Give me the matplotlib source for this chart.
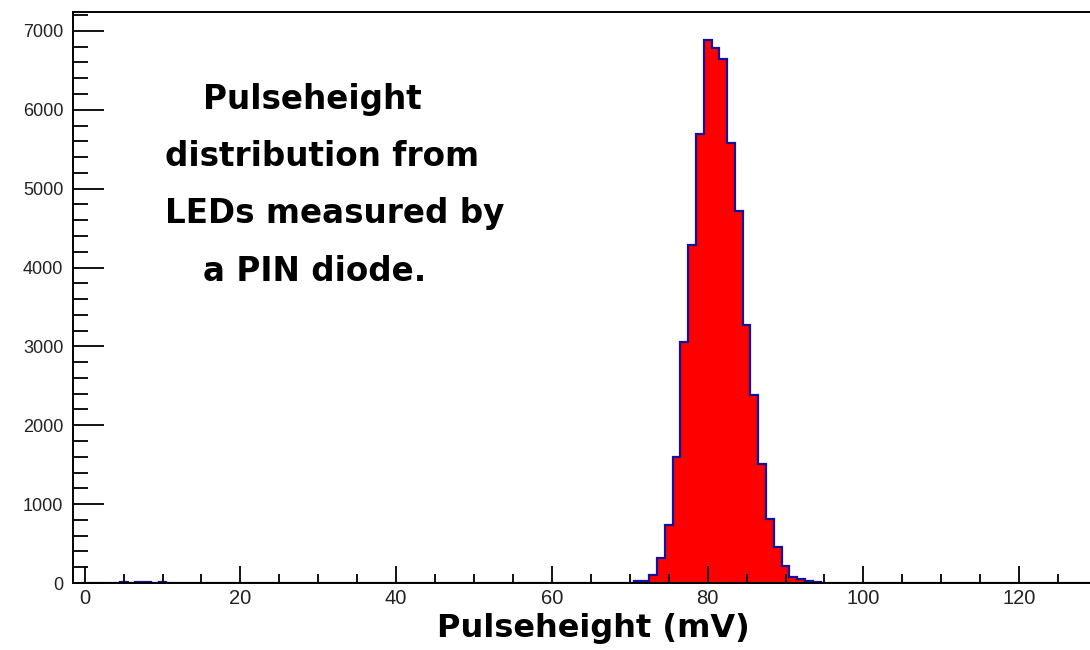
import numpy as np
import matplotlib.pyplot as plt
from matplotlib.ticker import MultipleLocator

# bin centres (mV) with non-zero counts, 1 mV bins
pulse_mv = [5, 7, 8, 10,
            71, 72, 73, 74, 75, 76, 77, 78, 79, 80, 81, 82, 83, 84,
            85, 86, 87, 88, 89, 90, 91, 92, 93, 94]
counts = [10, 12, 10, 8,
          25, 30, 100, 320, 735, 1600, 3050, 4285, 5690, 6880, 6780, 6645, 5575, 4715,
          3270, 2385, 1505, 810, 460, 220, 80, 50, 20, 15]

x_ticks = [0, 20, 40, 60, 80, 100, 120]
y_ticks = [0, 1000, 2000, 3000, 4000, 5000, 6000, 7000]
note_lines = ["Pulseheight", "distribution from", "LEDs measured by", "a PIN diode."]
x_title = "Pulseheight (mV)"

W, H = 1090, 650
fig = plt.figure(figsize=(W / 100, H / 100), dpi=100)
ax = fig.add_axes([73 / W, 67 / H, (W - 73) / W, 571 / H])

edges = np.arange(-0.5, 130.5, 1.0)
hist = np.zeros(len(edges) - 1)
hist[np.searchsorted(edges, pulse_mv) - 1] = counts

ax.stairs(hist, edges, fill=True, color="#ff0000", zorder=1)
ax.stairs(hist, edges, color="#12129a", lw=1.6, zorder=1.5)

ax.set_xlim(-1.5, 129.1)
ax.set_ylim(0, 7240)
ax.spines["right"].set_visible(False)
for s in ["left", "bottom", "top"]:
    ax.spines[s].set_linewidth(1.4)
    ax.spines[s].set_zorder(3)

ax.set_xticks(x_ticks)
ax.set_yticks(y_ticks)
ax.xaxis.set_minor_locator(MultipleLocator(5))
ax.yaxis.set_minor_locator(MultipleLocator(200))
ax.tick_params(axis="x", which="major", direction="in", length=12, width=1.3, pad=4,
               labelsize=14.5, labelcolor="#222222")
ax.tick_params(axis="x", which="minor", direction="in", length=6.5, width=1.3)
ax.tick_params(axis="y", which="major", direction="in", length=22, width=1.3, pad=7,
               labelsize=13, labelcolor="#222222")
ax.tick_params(axis="y", which="minor", direction="in", length=11, width=1.3)
for lab in ax.get_xticklabels() + ax.get_yticklabels():
    lab.set_family("Liberation Sans")

# annotation block and axis title
starts = [203, 165, 165, 203]
baselines = [109, 166, 223, 281]
for txt, x0, yb in zip(note_lines, starts, baselines):
    fig.text(x0 / W, 1 - yb / H, txt, ha="left", va="baseline",
             fontsize=23.5, fontweight="bold", family="DejaVu Sans")
fig.text(593 / W, 1 - 637 / H, x_title, ha="center", va="baseline",
         fontsize=23, fontweight="bold", family="DejaVu Sans")

fig.savefig("out.png", dpi=100)
